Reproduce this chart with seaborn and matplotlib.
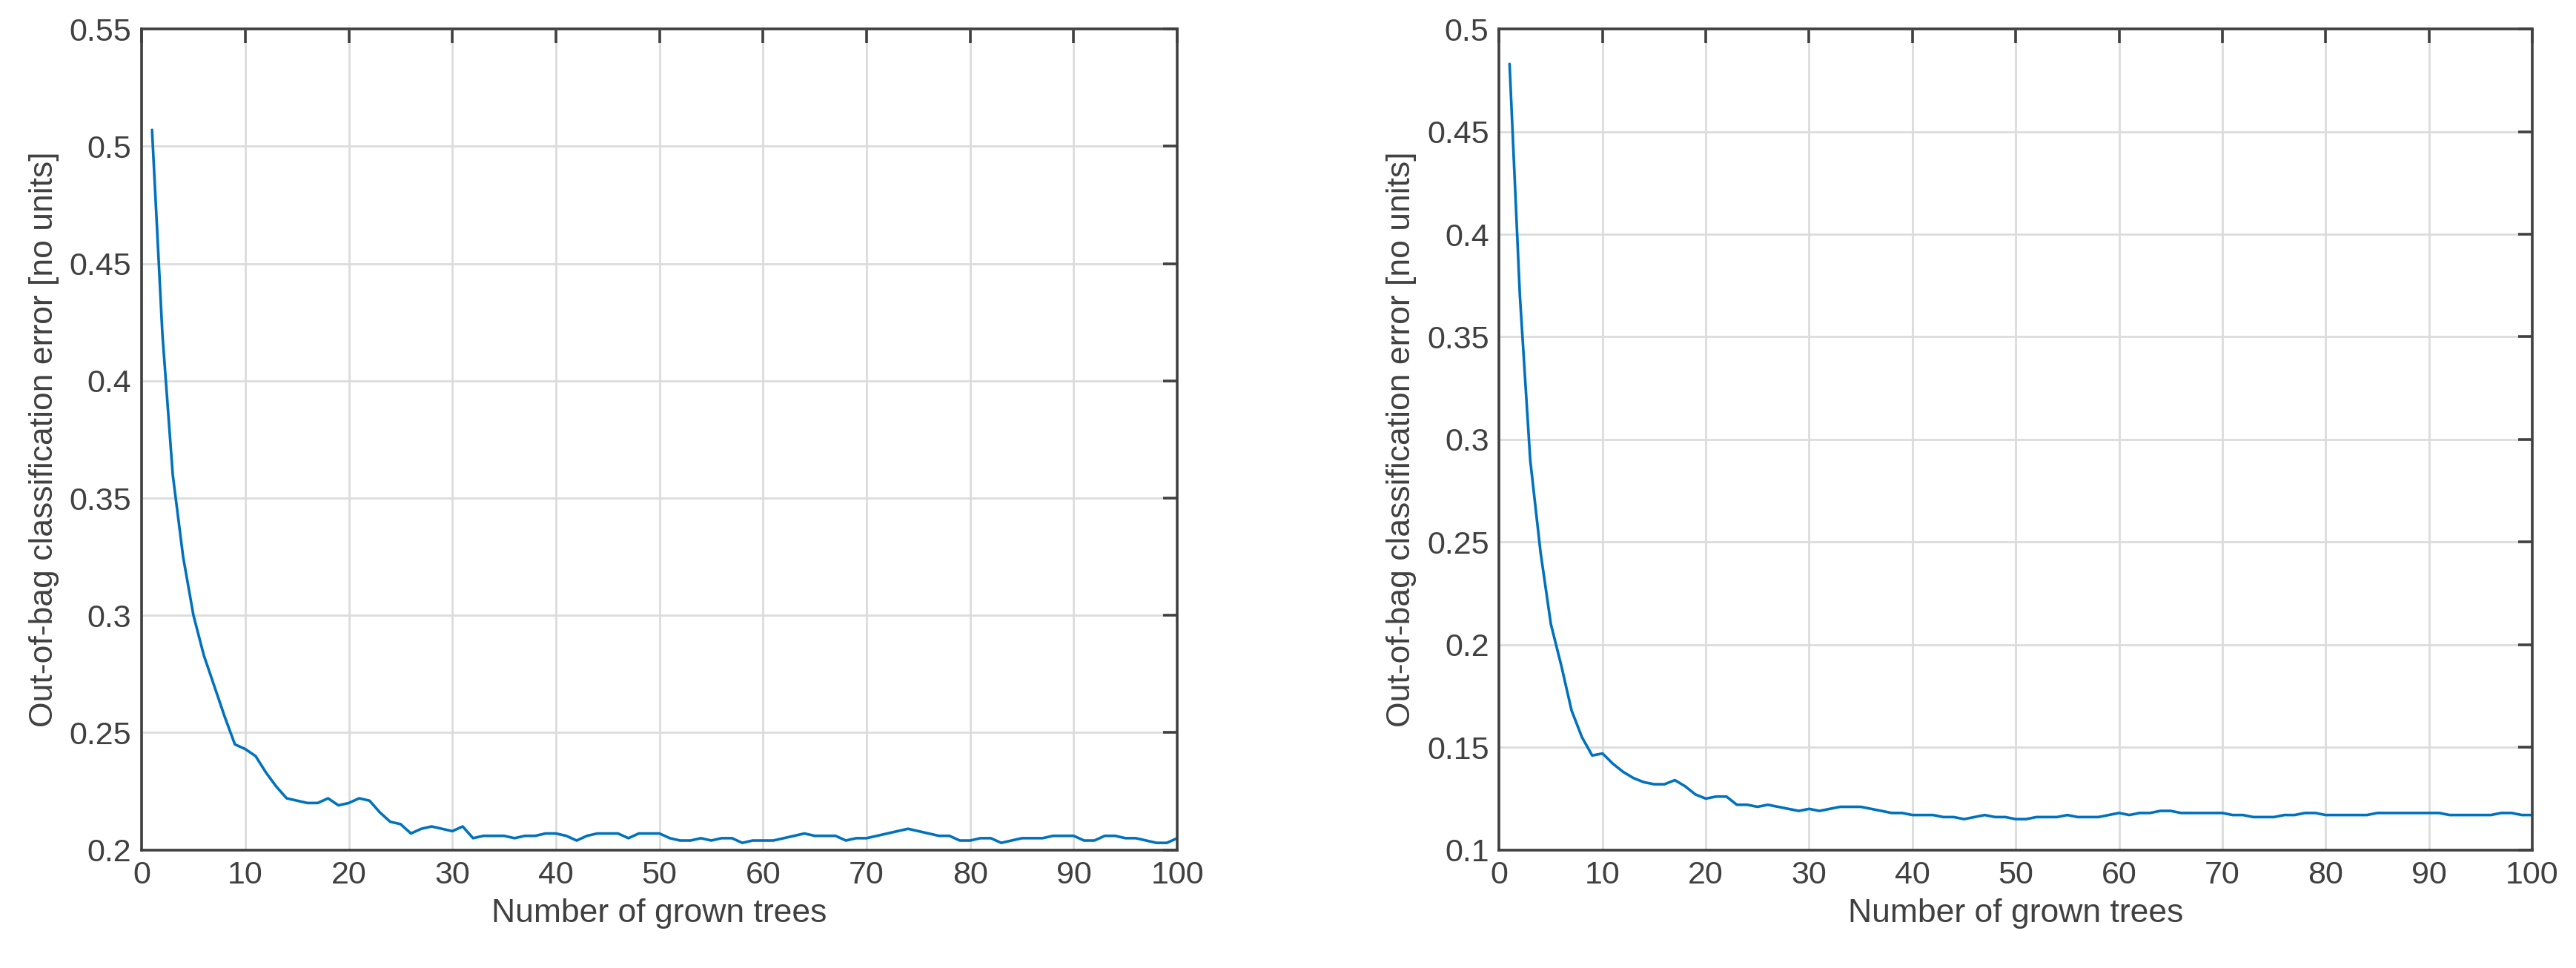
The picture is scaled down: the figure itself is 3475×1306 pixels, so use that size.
import matplotlib
matplotlib.use("Agg")
import matplotlib.pyplot as plt
import seaborn as sns
import numpy as np

trees = list(range(1, 101))
err_left = [0.507, 0.420, 0.360, 0.325, 0.300, 0.283, 0.270, 0.257, 0.245, 0.243,
            0.240, 0.233, 0.227, 0.222, 0.221, 0.220, 0.220, 0.222, 0.219, 0.220,
            0.222, 0.221, 0.216, 0.212, 0.211, 0.207, 0.209, 0.210, 0.209, 0.208,
            0.210, 0.205, 0.206, 0.206, 0.206, 0.205, 0.206, 0.206, 0.207, 0.207,
            0.206, 0.204, 0.206, 0.207, 0.207, 0.207, 0.205, 0.207, 0.207, 0.207,
            0.205, 0.204, 0.204, 0.205, 0.204, 0.205, 0.205, 0.203, 0.204, 0.204,
            0.204, 0.205, 0.206, 0.207, 0.206, 0.206, 0.206, 0.204, 0.205, 0.205,
            0.206, 0.207, 0.208, 0.209, 0.208, 0.207, 0.206, 0.206, 0.204, 0.204,
            0.205, 0.205, 0.203, 0.204, 0.205, 0.205, 0.205, 0.206, 0.206, 0.206,
            0.204, 0.204, 0.206, 0.206, 0.205, 0.205, 0.204, 0.203, 0.203, 0.205]
err_right = [0.483, 0.370, 0.290, 0.245, 0.210, 0.190, 0.168, 0.155, 0.146, 0.147,
             0.142, 0.138, 0.135, 0.133, 0.132, 0.132, 0.134, 0.131, 0.127, 0.125,
             0.126, 0.126, 0.122, 0.122, 0.121, 0.122, 0.121, 0.120, 0.119, 0.120,
             0.119, 0.120, 0.121, 0.121, 0.121, 0.120, 0.119, 0.118, 0.118, 0.117,
             0.117, 0.117, 0.116, 0.116, 0.115, 0.116, 0.117, 0.116, 0.116, 0.115,
             0.115, 0.116, 0.116, 0.116, 0.117, 0.116, 0.116, 0.116, 0.117, 0.118,
             0.117, 0.118, 0.118, 0.119, 0.119, 0.118, 0.118, 0.118, 0.118, 0.118,
             0.117, 0.117, 0.116, 0.116, 0.116, 0.117, 0.117, 0.118, 0.118, 0.117,
             0.117, 0.117, 0.117, 0.117, 0.118, 0.118, 0.118, 0.118, 0.118, 0.118,
             0.118, 0.117, 0.117, 0.117, 0.117, 0.117, 0.118, 0.118, 0.117, 0.117]
xlabel = "Number of grown trees"
ylabel = "Out-of-bag classification error [no units]"
left_yticks = [0.2, 0.25, 0.3, 0.35, 0.4, 0.45, 0.5, 0.55]
right_yticks = [0.1, 0.15, 0.2, 0.25, 0.3, 0.35, 0.4, 0.45, 0.5]
xticks = list(range(0, 101, 10))

sns.set_theme(style="white")
plt.rcParams['font.family'] = ['Liberation Sans', 'DejaVu Sans']
plt.rcParams['axes.unicode_minus'] = False

fig = plt.figure(figsize=(34.75, 13.06), dpi=100)
ax1 = fig.add_axes([0.055, 0.122, 0.402, 0.848])
ax2 = fig.add_axes([0.582, 0.122, 0.401, 0.848])

dark = "#404040"
for ax, y, yt in [(ax1, err_left, left_yticks), (ax2, err_right, right_yticks)]:
    sns.lineplot(x=trees, y=y, ax=ax, color="#0072BD", linewidth=2.6)
    ax.set_xlim(0, 100)
    ax.set_ylim(yt[0], yt[-1])
    ax.set_xticks(xticks)
    ax.set_yticks(yt)
    ax.set_yticklabels([f"{v:g}" for v in yt])
    ax.grid(True, color="#dcdcdc", linewidth=2.0)
    ax.set_axisbelow(True)
    for s in ax.spines.values():
        s.set_color(dark)
        s.set_linewidth(2.6)
        s.set_visible(True)
    ax.tick_params(direction="in", length=14, width=2.6, color=dark,
                   labelsize=31, labelcolor=dark, top=True, right=True, pad=10)
    ax.set_xlabel(xlabel, fontsize=32, color=dark, labelpad=8)
    ax.set_ylabel(ylabel, fontsize=32, color=dark, labelpad=10)

fig.savefig("out.png", dpi=100, facecolor="white")
